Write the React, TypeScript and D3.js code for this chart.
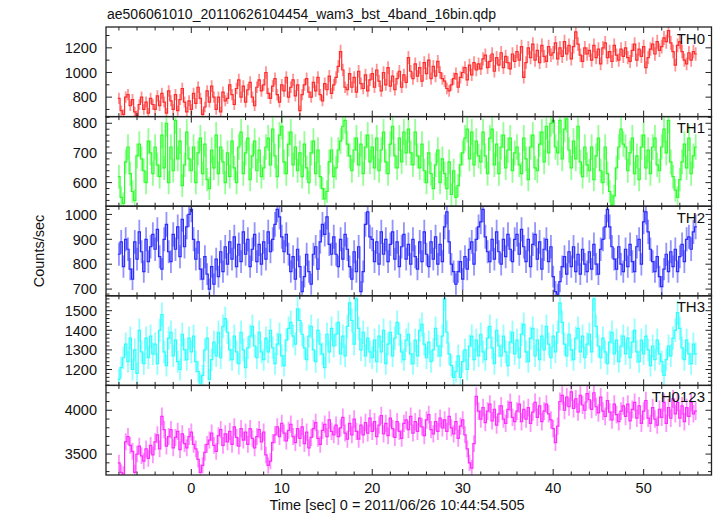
import React from "react";
import * as d3 from "d3";

const TITLE = "ae506061010_20110626104454_wam3_bst_4band_16bin.qdp";
const X_LABEL = "Time [sec] 0 = 2011/06/26 10:44:54.505";
const Y_LABEL = "Counts/sec";
const T_START = -8;
const BIN = 0.25;

const th0 = [
  790, 690, 660, 800, 820, 730, 780, 680, 650, 740, 800, 700, 760, 670, 790, 740,
  700, 810, 730, 830, 760, 670, 850, 770, 700, 820, 690, 780, 870, 760, 680, 770,
  700, 830, 750, 880, 790, 660, 720, 850, 760, 890, 800, 700, 800, 680, 840, 770,
  790, 900, 820, 740, 870, 940, 800, 890, 760, 860, 920, 800, 730, 880, 940, 850,
  900, 1000, 830, 790, 890, 950, 820, 760, 900, 850, 960, 800, 880, 940, 810, 900,
  690, 820, 900, 950, 840, 800, 920, 850, 960, 820, 770, 910, 860, 970, 830, 900,
  960, 1050, 1170, 1020, 880, 860, 990, 880, 960, 840, 1010, 910, 870, 980, 850, 940,
  990, 880, 1020, 930, 850, 1000, 900, 1040, 890, 970, 860, 950, 1010, 880, 980, 920,
  1120, 1010, 950, 1070, 970, 1040, 930, 1080, 990, 1100, 950, 1050, 970, 1090, 1000, 950,
  930, 870, 850, 900, 950, 990, 880, 960, 1000, 1040, 940, 1060, 980, 1080, 1020, 1070,
  1030, 1110, 1140, 1040, 1090, 1150, 1010, 1120, 1060, 1160, 1040, 1130, 1080, 1030, 1150, 1090,
  1170, 1100, 1210, 960, 1080, 1200, 1120, 1230, 1100, 1180, 1080, 1220, 1130, 1090, 1210, 1140,
  1160, 1240, 1110, 1200, 1130, 1250, 1150, 1220, 1110, 1210, 1330, 1230, 1140, 1090, 1200, 1150,
  1180, 1100, 1220, 1120, 1190, 1070, 1200, 1240, 1120, 1170, 1090, 1220, 1140, 1100, 1190, 1130,
  1200, 1120, 1090, 1180, 1230, 1100, 1190, 1130, 1210, 1040, 1120, 1190, 1230, 1150, 1250, 1180,
  1210, 1280, 1250, 1340, 1240, 1170, 1060, 1220, 1250, 1170, 1100, 1070, 1160, 1100, 1170, 1150,
];

const th1 = [
  620, 550, 530, 670, 720, 630, 570, 540, 690, 730, 680, 640, 600, 740, 700, 630,
  720, 660, 620, 760, 650, 800, 600, 720, 640, 810, 680, 740, 590, 660, 770, 680,
  640, 720, 600, 700, 750, 630, 730, 610, 580, 710, 650, 760, 630, 720, 670, 600,
  700, 620, 740, 650, 600, 720, 770, 630, 700, 750, 610, 690, 740, 640, 710, 620,
  650, 720, 750, 660, 780, 690, 620, 760, 790, 670, 630, 730, 770, 660, 720, 640,
  700, 620, 730, 650, 600, 700, 740, 630, 710, 620, 580, 545, 570, 670, 710, 620,
  650, 710, 740, 790, 810, 730, 690, 640, 710, 750, 660, 730, 630, 720, 760, 670,
  720, 650, 750, 640, 710, 770, 670, 630, 730, 790, 690, 650, 750, 670, 770, 700,
  780, 700, 660, 770, 690, 650, 730, 640, 600, 700, 630, 580, 660, 710, 600, 680,
  630, 580, 670, 560, 640, 550, 590, 660, 700, 750, 780, 680, 770, 660, 740, 690,
  670, 770, 690, 630, 750, 780, 660, 730, 630, 720, 760, 650, 710, 750, 640, 700,
  720, 660, 630, 750, 680, 610, 720, 760, 650, 640, 730, 770, 670, 790, 700, 800,
  810, 720, 700, 810, 680, 780, 815, 710, 650, 740, 680, 790, 670, 620, 720, 660,
  640, 720, 610, 690, 750, 640, 600, 720, 630, 570, 525, 555, 650, 720, 780, 730,
  720, 640, 700, 750, 630, 690, 610, 720, 760, 650, 710, 630, 720, 750, 660, 640,
  720, 780, 700, 810, 670, 620, 575, 550, 610, 670, 730, 650, 750, 630, 690, 720,
];

const th2 = [
  840, 890, 790, 900, 860, 780, 740, 890, 820, 930, 850, 770, 900, 810, 870, 920,
  860, 940, 830, 780, 900, 960, 850, 810, 920, 860, 950, 830, 980, 870, 950, 1000,
  1020, 900, 820, 890, 780, 740, 830, 760, 700, 790, 720, 820, 750, 850, 770, 870,
  800, 890, 820, 910, 790, 880, 810, 930, 840, 900, 790, 860, 920, 810, 880, 800,
  890, 820, 930, 850, 900, 960, 1020, 990, 910, 850, 920, 840, 770, 830, 740, 860,
  790, 690, 750, 840, 770, 720, 840, 870, 780, 890, 960, 920, 990, 880, 840, 910,
  840, 790, 900, 820, 920, 860, 790, 740, 850, 770, 870, 690, 770, 960, 1010, 910,
  900, 810, 890, 800, 930, 840, 900, 810, 880, 930, 820, 890, 790, 870, 920, 820,
  880, 800, 900, 830, 780, 890, 810, 930, 840, 790, 890, 820, 910, 800, 880, 810,
  950, 1010, 890, 800, 770, 720, 770, 810, 740, 830, 780, 860, 890, 800, 900, 950,
  970, 1020, 910, 850, 810, 900, 820, 930, 850, 800, 900, 830, 920, 860, 810, 900,
  920, 840, 940, 870, 810, 900, 790, 880, 920, 820, 890, 780, 860, 900, 810, 870,
  750, 690, 680, 730, 790, 830, 760, 850, 790, 870, 770, 840, 760, 860, 800, 770,
  850, 780, 880, 800, 760, 860, 900, 950, 1020, 950, 870, 820, 780, 870, 800, 770,
  860, 790, 880, 810, 770, 870, 900, 800, 970, 1010, 930, 860, 810, 770, 830, 750,
  710, 780, 840, 770, 850, 790, 860, 770, 830, 880, 810, 900, 910, 860, 930, 950,
];

const th3 = [
  1150, 1210, 1260, 1330, 1240, 1360, 1200, 1300, 1180, 1400, 1290, 1230, 1360, 1260, 1370, 1280,
  1330, 1230, 1400, 1480, 1290, 1220, 1360, 1390, 1270, 1350, 1240, 1200, 1380, 1300, 1250, 1360,
  1290, 1370, 1240, 1190, 1130, 1170, 1300, 1360, 1150, 1250, 1340, 1270, 1390, 1260, 1420, 1460,
  1390, 1300, 1250, 1370, 1290, 1230, 1390, 1300, 1210, 1310, 1370, 1420, 1320, 1260, 1390, 1290,
  1250, 1360, 1290, 1400, 1310, 1230, 1330, 1380, 1270, 1220, 1350, 1410, 1440, 1370, 1330, 1510,
  1450, 1380, 1310, 1250, 1370, 1420, 1300, 1240, 1400, 1330, 1280, 1210, 1380, 1290, 1410, 1320,
  1380, 1440, 1280, 1370, 1270, 1420, 1540, 1450, 1330, 1560, 1410, 1300, 1390, 1270, 1360, 1290,
  1260, 1350, 1240, 1370, 1290, 1400, 1230, 1330, 1390, 1270, 1360, 1440, 1380, 1290, 1250, 1350,
  1380, 1280, 1230, 1350, 1270, 1400, 1430, 1330, 1260, 1340, 1240, 1300, 1410, 1320, 1270, 1370,
  1560, 1390, 1280, 1220, 1160, 1190, 1270, 1160, 1240, 1300, 1200, 1320, 1370, 1250, 1350, 1270,
  1380, 1290, 1250, 1360, 1420, 1310, 1230, 1400, 1320, 1270, 1370, 1290, 1220, 1340, 1390, 1280,
  1350, 1260, 1380, 1430, 1290, 1240, 1360, 1410, 1270, 1350, 1250, 1370, 1300, 1420, 1330, 1260,
  1370, 1290, 1390, 1540, 1440, 1330, 1270, 1380, 1300, 1250, 1360, 1410, 1290, 1370, 1260, 1330,
  1380, 1290, 1560, 1420, 1320, 1260, 1360, 1290, 1230, 1340, 1390, 1280, 1350, 1240, 1320, 1370,
  1280, 1360, 1260, 1340, 1400, 1290, 1240, 1350, 1280, 1370, 1300, 1220, 1320, 1250, 1350, 1280,
  1240, 1170, 1250, 1320, 1270, 1360, 1400, 1490, 1410, 1310, 1250, 1350, 1280, 1230, 1330, 1280,
];

const th0123 = [
  3400, 3290, 3270, 3640, 3700, 3600, 3530, 3290, 3500, 3590, 3480, 3420, 3560, 3450, 3600, 3490,
  3640, 3720, 3560, 3930, 3780, 3590, 3700, 3780, 3570, 3690, 3760, 3550, 3730, 3620, 3570, 3700,
  3750, 3610, 3560, 3440, 3290, 3370, 3520, 3610, 3660, 3740, 3600, 3530, 3710, 3780, 3600, 3730,
  3640, 3760, 3610, 3810, 3690, 3590, 3790, 3660, 3750, 3610, 3790, 3680, 3570, 3700, 3780, 3640,
  3750, 3490, 3370, 3420, 3630, 3720, 3810, 3700, 3850, 3740, 3650, 3770, 3840, 3700, 3630, 3790,
  3680, 3810, 3620, 3750, 3570, 3690, 3790, 3860, 3680, 3610, 3770, 3840, 3700, 3890, 3760, 3720,
  3830, 3700, 3800, 3920, 3740, 3670, 3850, 3720, 3900, 3760, 3670, 3830, 3720, 3860, 3740, 3910,
  3760, 3870, 3700, 3830, 3940, 3730, 3850, 3710, 3910, 3790, 3690, 3870, 3760, 3680, 3850, 3890,
  3780, 3930, 3740, 3870, 3760, 3910, 3810, 3710, 3890, 3950, 3780, 3730, 3870, 3760, 3910, 3800,
  3890, 3760, 3930, 3800, 3730, 3870, 3680, 3820, 3890, 3720, 3560, 3400, 3340, 3620, 4160, 3990,
  3900, 4030, 3860, 3990, 4070, 3880, 4010, 3830, 3960, 4050, 3900, 3850, 4010, 4090, 3920, 3870,
  3990, 4070, 3870, 4010, 3900, 4030, 3850, 3980, 4090, 3920, 4050, 3870, 3990, 4070, 3960, 3890,
  3790, 3630, 3820, 4100, 4170, 4000, 4150, 4040, 4210, 4020, 4130, 3980, 4170, 4060, 4000, 4190,
  4120, 4010, 4200, 4040, 3970, 4150, 3990, 3930, 4110, 3980, 3890, 4070, 3950, 3870, 3990, 4050,
  3930, 4070, 3880, 4010, 4090, 3910, 4050, 3850, 3990, 4110, 3910, 3850, 4030, 3900, 3830, 4010,
  3920, 4090, 3850, 4030, 3910, 4130, 3960, 4090, 3910, 4050, 3870, 4030, 3930, 4090, 3960, 3990,
];

const panelNames = ["TH0", "TH1", "TH2", "TH3", "TH0123"];
const panelSeries = [th0, th1, th2, th3, th0123];
const panelDomains: [number, number][] = [
  [642, 1369],
  [520.5, 822.5],
  [673, 1033],
  [1119, 1576],
  [3261, 4284],
];
const panelMajor = [200, 100, 100, 100, 500];
const panelMinor = [100, 20, 20, 20, 100];
const panelColors = ["#ff2a2a", "#2aff2a", "#2a2aff", "#2affff", "#ff2aff"];
const xMajorTicks = [0, 10, 20, 30, 40, 50];
const xDomain: [number, number] = [-9.43, 57.5];

const W = 717;
const H = 516;
const LEFT = 106;
const RIGHT = 711.5;
const TOP = 27;
const PANEL_H = 89.6;
const FONT = "'Liberation Sans', Arial, Helvetica, sans-serif";
const AXIS = "#222";

function range(a: number, b: number, step: number) {
  const out: number[] = [];
  const start = Math.ceil(a / step - 1e-9) * step;
  for (let v = start; v <= b + 1e-9; v += step) out.push(Math.round(v * 1000) / 1000);
  return out;
}

export default function App() {
  const x = d3.scaleLinear().domain(xDomain).range([LEFT, RIGHT]);
  const xMinor = range(xDomain[0], xDomain[1], 2);

  return (
    <svg
      width={W}
      height={H}
      style={{ position: "absolute", left: 0, top: 0, background: "#fff" }}
      fontFamily={FONT}
    >
      <rect x={0} y={0} width={W} height={H} fill="#fff" />
      <text x={107} y={19} fontSize={14} fill="#111">
        {TITLE}
      </text>
      <text
        transform={`translate(44,${TOP + (PANEL_H * 5) / 2}) rotate(-90)`}
        textAnchor="middle"
        fontSize={14.5}
        fill="#111"
      >
        {Y_LABEL}
      </text>
      <text x={397} y={510} textAnchor="middle" fontSize={14.5} fill="#111">
        {X_LABEL}
      </text>
      {panelSeries.map((series, p) => {
        const y0 = TOP + p * PANEL_H;
        const y1 = y0 + PANEL_H;
        const y = d3.scaleLinear().domain(panelDomains[p]).range([y1, y0]);
        const color = panelColors[p];
        const pts = series.map((v, i) => ({ t: T_START + i * BIN, v, e: 1.6 * Math.sqrt(v) }));
        const stepPts: [number, number][] = pts.map((d) => [d.t - BIN / 2, d.v]);
        stepPts.push([pts[pts.length - 1].t + BIN / 2, pts[pts.length - 1].v]);
        const line = d3
          .line<[number, number]>()
          .x((d) => x(d[0]))
          .y((d) => y(d[1]))
          .curve(d3.curveStepAfter);
        const yMinor = range(panelDomains[p][0], panelDomains[p][1], panelMinor[p]);
        const yMajor = range(panelDomains[p][0], panelDomains[p][1], panelMajor[p]);
        const clipId = `clip${p}`;
        return (
          <g key={p}>
            <defs>
              <clipPath id={clipId}>
                <rect x={LEFT} y={y0} width={RIGHT - LEFT} height={PANEL_H} />
              </clipPath>
            </defs>
            <g clipPath={`url(#${clipId})`}>
              {pts.map((d, i) => (
                <line
                  key={i}
                  x1={x(d.t)}
                  x2={x(d.t)}
                  y1={y(d.v - d.e)}
                  y2={y(d.v + d.e)}
                  stroke={color}
                  strokeOpacity={0.5}
                  strokeWidth={1.8}
                />
              ))}
              <path d={line(stepPts) || ""} fill="none" stroke={color} strokeWidth={1.2} />
            </g>
            {yMinor.map((v) => {
              const major = yMajor.includes(v);
              const len = major ? 6 : 3.5;
              return (
                <g key={`y${v}`}>
                  <line x1={LEFT} x2={LEFT + len} y1={y(v)} y2={y(v)} stroke={AXIS} strokeWidth={1} />
                  <line x1={RIGHT} x2={RIGHT - len} y1={y(v)} y2={y(v)} stroke={AXIS} strokeWidth={1} />
                </g>
              );
            })}
            {yMajor.map((v) => (
              <text
                key={`yl${v}`}
                x={97}
                y={y(v)}
                dy="0.36em"
                textAnchor="end"
                fontSize={14.5}
                fill="#111"
              >
                {v}
              </text>
            ))}
            {xMinor.map((t) => {
              const major = t % 10 === 0;
              const len = major ? 6 : 3.5;
              return (
                <g key={`x${t}`}>
                  <line x1={x(t)} x2={x(t)} y1={y1} y2={y1 - len} stroke={AXIS} strokeWidth={1} />
                  <line x1={x(t)} x2={x(t)} y1={y0} y2={y0 + len} stroke={AXIS} strokeWidth={1} />
                </g>
              );
            })}
            <rect
              x={LEFT}
              y={y0}
              width={RIGHT - LEFT}
              height={PANEL_H}
              fill="none"
              stroke={AXIS}
              strokeWidth={1.3}
            />
            <text x={705} y={y0 + 16.5} textAnchor="end" fontSize={15} fill="#111">
              {panelNames[p]}
            </text>
          </g>
        );
      })}
      {xMajorTicks.map((t) => (
        <text key={`xl${t}`} x={x(t)} y={493} textAnchor="middle" fontSize={14.5} fill="#111">
          {t}
        </text>
      ))}
    </svg>
  );
}
